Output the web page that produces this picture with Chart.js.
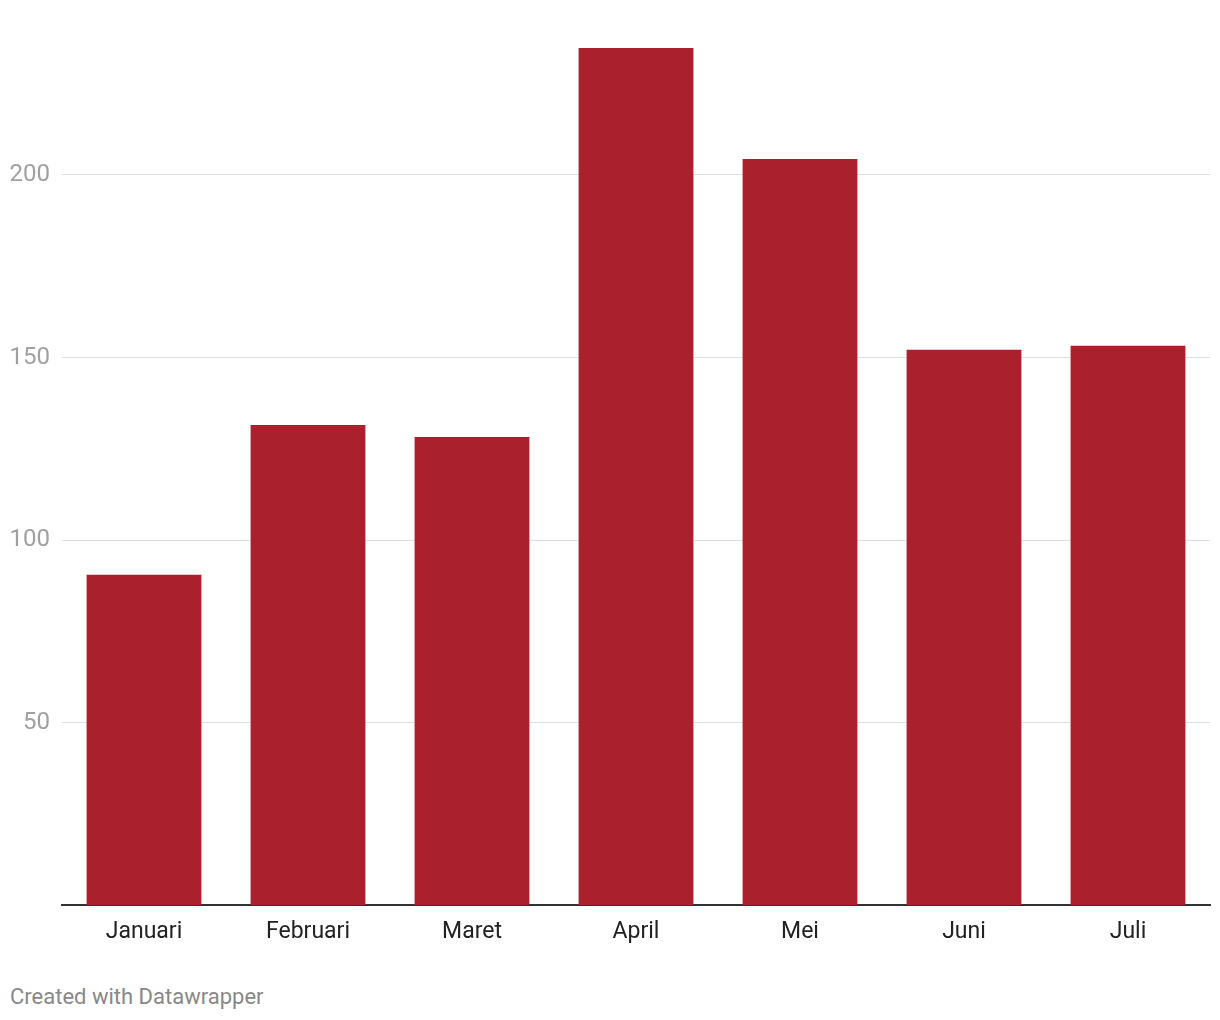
<!DOCTYPE html>
<html lang="id">
<head>
    <meta charset="UTF-8">
    <title>Bar chart</title>
    <script src="https://cdn.jsdelivr.net/npm/chart.js@4"></script>
    <style>
        body{
            margin: 0;
            background: #fff;
            font-family: Roboto, sans-serif;
        }
        .wrap{
            position: relative;
            width: 1220px;
            height: 1020px;
        }
        .credit{
            position: absolute;
            left: 10px;
            top: 984px;
            font-size: 22px;
            line-height: 26px;
            color: #888;
        }
    </style>
</head>
<body>
    <div class="wrap">
        <canvas id="chartCanvas" width="1220" height="960"></canvas>
        <div class="credit">Created with Datawrapper</div>
    </div>

    <script>
        var months = ['Januari', 'Februari', 'Maret', 'April', 'Mei', 'Juni', 'Juli'];
        var values = [90.5, 131.5, 128.2, 234.8, 204.4, 152.1, 153.2];
        var yTicks = [50, 100, 150, 200];

        const ctx = document.getElementById('chartCanvas').getContext('2d');
        const chart = new Chart(ctx, {
            type: 'bar',
            data: {
                labels: months,
                datasets: [{
                    data: values,
                    backgroundColor: '#ab202d',
                    barPercentage: 0.7,
                    categoryPercentage: 1.0
                }]
            },
            options: {
                responsive: false,
                animation: false,
                layout: {
                    padding: {top: 29, right: 10, left: 10, bottom: 0}
                },
                plugins: {
                    legend: {display: false},
                    tooltip: {enabled: false}
                },
                scales: {
                    x: {
                        grid: {display: false, drawTicks: false},
                        border: {display: true, color: '#333', width: 2},
                        ticks: {
                            color: '#222',
                            padding: 13,
                            font: {family: 'Roboto', size: 23}
                        },
                        afterFit: function(scale){
                            scale.height = 55;
                        }
                    },
                    y: {
                        min: 0,
                        max: 240,
                        border: {display: false},
                        grid: {color: '#dedede', lineWidth: 1, drawTicks: false},
                        ticks: {
                            color: '#a0a0a0',
                            padding: 12,
                            font: {family: 'Roboto', size: 24}
                        },
                        afterBuildTicks: function(scale){
                            scale.ticks = yTicks.map(function(v){ return {value: v}; });
                        },
                        afterFit: function(scale){
                            scale.width = 52;
                        }
                    }
                }
            }
        });
    </script>
</body>
</html>
